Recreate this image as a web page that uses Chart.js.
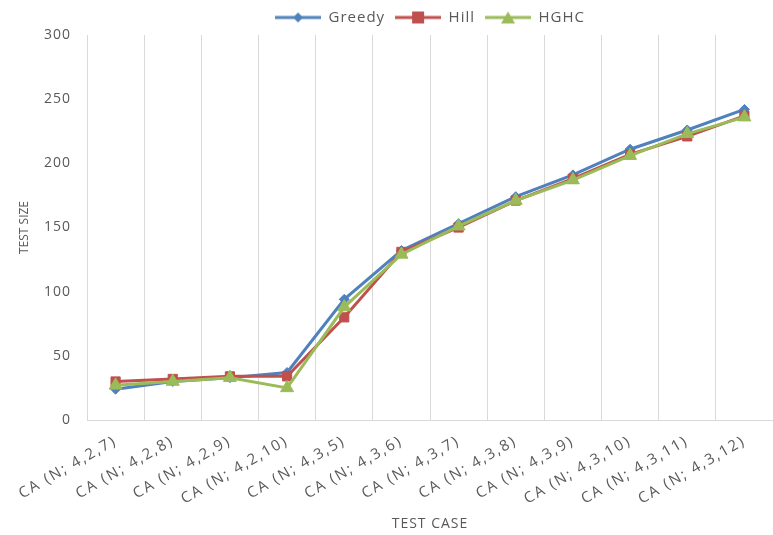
<!DOCTYPE html>
<html>
<head>
<meta charset="utf-8">
<script src="https://cdn.jsdelivr.net/npm/chart.js@4.4.1/dist/chart.umd.min.js"></script>
<style>
  body { margin: 0; background: #fff; }
  #wrap { width: 773px; height: 535px; }
</style>
</head>
<body>
<div id="wrap"><canvas id="chart" width="773" height="535"></canvas></div>
<script>
'use strict';

// ------------------------------- Data ------------------------------//
const testCases = [
  'CA (N; 4,2,7)', 'CA (N; 4,2,8)', 'CA (N; 4,2,9)', 'CA (N; 4,2,10)',
  'CA (N; 4,3,5)', 'CA (N; 4,3,6)', 'CA (N; 4,3,7)', 'CA (N; 4,3,8)',
  'CA (N; 4,3,9)', 'CA (N; 4,3,10)', 'CA (N; 4,3,11)', 'CA (N; 4,3,12)'
];
const greedyValues = [24, 30, 33, 37, 94, 132, 153, 174, 191, 211, 226, 242];
const hillValues = [30, 32, 34, 34, 80, 131, 150, 171, 188, 207, 221, 237];
const hghcValues = [27, 30, 33, 25, 88, 129, 151, 171, 187, 206, 223, 236];
const yTicks = [0, 50, 100, 150, 200, 250, 300];

const fontFamily = '"Open Sans", "Liberation Sans", sans-serif';
const textColor = '#595959';
const baseSpacing = '1px';

// the plot runs right up to the canvas edge, so drop the point overflow margin
Chart.registry.getController('line').prototype.getMaxOverflow = function () { return 0; };

// the reference text is drawn wide, so space the letters out a bit
const spacingPlugin = {
  id: 'spacing',
  beforeLayout: function (chart) { chart.ctx.letterSpacing = baseSpacing; },
  beforeDraw: function (chart) { chart.ctx.letterSpacing = baseSpacing; }
};

function withSpacing(fn, spacing) {
  return function () {
    const c = this.ctx;
    c.letterSpacing = spacing;
    fn.apply(this, arguments);
    c.letterSpacing = baseSpacing;
  };
}

// legend swatch: short line with the marker on it
function makeSwatch(color, style) {
  const c = document.createElement('canvas');
  c.width = 46;
  c.height = 14;
  const g = c.getContext('2d');
  g.strokeStyle = color;
  g.fillStyle = color;
  g.lineWidth = 3;
  g.beginPath();
  g.moveTo(0, 7);
  g.lineTo(46, 7);
  g.stroke();
  g.beginPath();
  if (style === 'rectRot') {
    g.moveTo(23, 2); g.lineTo(28, 7); g.lineTo(23, 12); g.lineTo(18, 7);
  } else if (style === 'rect') {
    g.rect(17, 1, 12, 12);
  } else {
    g.moveTo(23, 1); g.lineTo(30, 13); g.lineTo(16, 13);
  }
  g.closePath();
  g.fill();
  return c;
}

function makeSeries(label, data, color, style, radius, order) {
  return {
    label: label,
    data: data,
    borderColor: color,
    backgroundColor: color,
    borderWidth: 3,
    pointStyle: style,
    pointRadius: radius,
    pointHoverRadius: radius,
    pointBorderWidth: 1,
    tension: 0,
    clip: 10,
    order: order,
    swatch: makeSwatch(color, style)
  };
}

const ctx = document.getElementById('chart').getContext('2d');
new Chart(ctx, {
  type: 'line',
  plugins: [spacingPlugin],
  data: {
    labels: testCases,
    datasets: [
      makeSeries('Greedy', greedyValues, '#4F81BD', 'rectRot', 5, 3),
      makeSeries('Hill', hillValues, '#C0504D', 'rect', 6.5, 2),
      makeSeries('HGHC', hghcValues, '#9BBB59', 'triangle', 7.5, 1)
    ]
  },
  options: {
    responsive: false,
    animation: false,
    layout: { padding: { left: 0, right: 0, top: 0, bottom: 0 } },
    plugins: {
      legend: {
        position: 'top',
        fullSize: false,
        labels: {
          usePointStyle: true,
          pointStyleWidth: 46,
          color: textColor,
          font: { family: fontFamily, size: 15 },
          padding: 10,
          generateLabels: function (chart) {
            return chart.data.datasets.map(function (ds, i) {
              return {
                text: ds.label,
                pointStyle: ds.swatch,
                fillStyle: ds.borderColor,
                strokeStyle: ds.borderColor,
                fontColor: textColor,
                lineWidth: 0,
                hidden: false,
                datasetIndex: i
              };
            });
          }
        }
      },
      tooltip: { enabled: false }
    },
    scales: {
      x: {
        offset: true,
        grid: { offset: true, color: '#D9D9D9', lineWidth: 1, drawTicks: false },
        border: { color: '#D9D9D9' },
        ticks: {
          color: textColor,
          font: { family: fontFamily, size: 15 },
          minRotation: 30,
          maxRotation: 30,
          autoSkip: false,
          padding: 12
        },
        title: {
          display: true,
          text: 'TEST CASE',
          color: textColor,
          font: { family: fontFamily, size: 14 },
          padding: { top: 0, bottom: 3 }
        },
        beforeCalculateLabelRotation: function (scale) {
          scale.ctx.letterSpacing = '2px';
        },
        afterFit: function (scale) {
          scale.ctx.letterSpacing = baseSpacing;
          scale.height = 115;
          scale.paddingLeft = 0;
          scale.paddingRight = 0;
        },
        afterUpdate: function (scale) {
          if (!scale._spaced) {
            scale.drawLabels = withSpacing(scale.drawLabels, '2px');
            scale._spaced = true;
          }
        }
      },
      y: {
        min: 0,
        max: 300,
        afterBuildTicks: function (scale) {
          scale.ticks = yTicks.map(function (v) { return { value: v }; });
        },
        grid: { display: false, drawTicks: false },
        border: { color: '#D9D9D9' },
        ticks: {
          color: textColor,
          font: { family: fontFamily, size: 14 },
          padding: 16
        },
        title: {
          display: true,
          text: 'TEST SIZE',
          color: textColor,
          font: { family: fontFamily, size: 12 },
          padding: { top: 17, bottom: 0 }
        },
        afterFit: function (scale) {
          scale.width = 87;
        },
        afterUpdate: function (scale) {
          if (!scale._spaced) {
            scale.drawTitle = withSpacing(scale.drawTitle, '0px');
            scale._spaced = true;
          }
        }
      }
    }
  }
});
</script>
</body>
</html>
